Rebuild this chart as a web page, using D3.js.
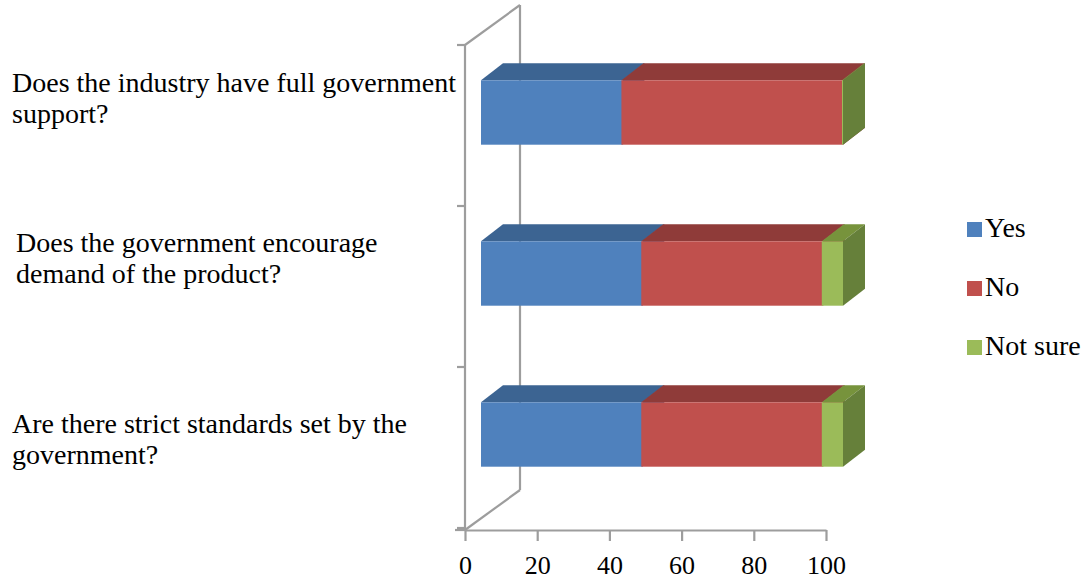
<html>
<head>
<meta charset="utf-8" />
<script src="https://cdnjs.cloudflare.com/ajax/libs/d3/7.8.5/d3.min.js"></script>
<style>
  body { margin: 0; background: #fff; }
  text { font-family: "Liberation Serif", "Times New Roman", serif; fill: #000; }
</style>
</head>
<body>
<div id="chart"></div>
<script>
// data
var categories = ["support", "demand", "standards"];
var categoryLines = [
  ["Does the industry have full government", "support?"],
  ["Does the government encourage", "demand of the product?"],
  ["Are there strict standards set by the", "government?"]
];
var seriesNames = ["Yes", "No", "Not sure"];
var yesValues = [38.9, 44.4, 44.4];
var noValues = [61.1, 50, 50];
var notSureValues = [0, 5.6, 5.6];
var xTicks = [0, 20, 40, 60, 80, 100];

var frontColors = ["#4f81bd", "#c0504d", "#9bbb59"];
var topColors = ["#3c6492", "#8f3b39", "#77933c"];
var sideColors = ["#3a5f8c", "#8a3836", "#66803a"];

var W = 1089, H = 579;
var svg = d3.select("#chart").append("svg").attr("width", W).attr("height", H);

var x = d3.scaleLinear().domain([0, 100]).range([465, 826]);
var y = d3.scaleBand().domain(categories).range([45, 528]).paddingInner(0.6).paddingOuter(0.3);

var axisColor = "#9d9d9d";
var x0 = x(0);
var backX = 520;

// walls
var wall = svg.append("g").attr("stroke", axisColor).attr("stroke-width", 2.2).attr("fill", "none");
wall.append("line").attr("x1", backX).attr("x2", backX).attr("y1", 5).attr("y2", 490);
wall.append("line").attr("x1", x0).attr("y1", 45).attr("x2", backX).attr("y2", 5);
wall.append("line").attr("x1", x0).attr("y1", 530).attr("x2", backX).attr("y2", 490);
wall.append("line").attr("x1", x0).attr("x2", x0).attr("y1", 45).attr("y2", 530);
var step = y.step();
d3.range(categories.length + 1).forEach(function(i){
  var yy = 45 + i * step;
  wall.append("line").attr("x1", x0 - 8).attr("x2", x0).attr("y1", yy).attr("y2", yy);
});

// bottom axis
var xAxis = d3.axisBottom(x).tickValues(xTicks).tickSize(11).tickSizeOuter(0);
var gx = svg.append("g").attr("transform", "translate(0,530)").call(xAxis);
gx.select(".domain").attr("stroke", axisColor).attr("stroke-width", 2.2);
gx.selectAll(".tick line").attr("stroke", axisColor).attr("stroke-width", 2.2);
gx.selectAll(".tick text").attr("y", 0).attr("dy", 0).attr("transform", "translate(0,44)")
  .style("font-family", "Liberation Serif").style("font-size", "26px").attr("fill", "#000");
svg.append("line").attr("x1", 455).attr("x2", x0).attr("y1", 530).attr("y2", 530)
  .attr("stroke", axisColor).attr("stroke-width", 2.2);

// 3D stacked bars
var shiftX = 16, shiftY = -13, dx = 22, dy = 17;
var seriesValues = [yesValues, noValues, notSureValues];
var stackData = categories.map(function(c, i){
  var start = 0;
  return seriesValues.map(function(vals, s){
    var seg = { cat: c, s: s, v0: start, v1: start + vals[i] };
    start += vals[i];
    return seg;
  });
});

var bars = svg.append("g");
stackData.forEach(function(segs){
  segs.forEach(function(d){
    var xa = x(d.v0) + shiftX, xb = x(d.v1) + shiftX + 1;
    var yt = y(d.cat) + shiftY, yb = yt + y.bandwidth();
    var g = bars.append("g");
    g.append("path")
      .attr("d", "M" + xa + "," + yt + "L" + xb + "," + yt + "L" + (xb + dx) + "," + (yt - dy) + "L" + (xa + dx) + "," + (yt - dy) + "Z")
      .attr("fill", topColors[d.s]);
    g.append("path")
      .attr("d", "M" + xb + "," + yt + "L" + (xb + dx) + "," + (yt - dy) + "L" + (xb + dx) + "," + (yb - dy) + "L" + xb + "," + yb + "Z")
      .attr("fill", sideColors[d.s]);
    g.append("rect").attr("x", xa).attr("y", yt).attr("width", xb - xa).attr("height", yb - yt)
      .attr("fill", frontColors[d.s]);
  });
});

// category labels
var labelPos = [[12, 47], [16, 46], [12, 66]];
categoryLines.forEach(function(lines, i){
  var top = 45 + i * step;
  var t = svg.append("text").style("font-size", "28px");
  lines.forEach(function(line, k){
    t.append("tspan").attr("x", labelPos[i][0]).attr("y", top + labelPos[i][1] + k * 31).text(line);
  });
});

// legend
var legend = svg.append("g").selectAll("g").data(seriesNames).join("g")
  .attr("transform", function(d, i){ return "translate(967," + (222 + i * 59) + ")"; });
legend.append("rect").attr("width", 15).attr("height", 15).attr("fill", function(d, i){ return frontColors[i]; });
legend.append("text").attr("x", 18).attr("y", 15).style("font-size", "28px").text(function(d){ return d; });
</script>
</body>
</html>
